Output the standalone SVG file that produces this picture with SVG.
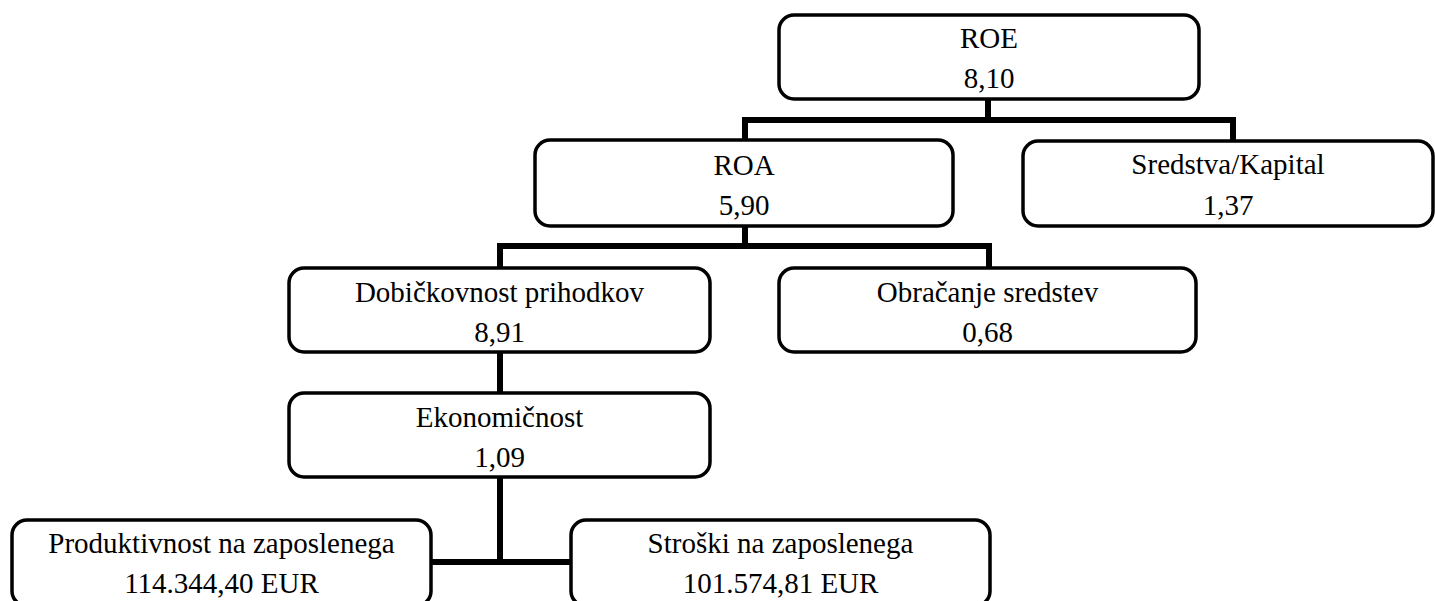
<svg xmlns="http://www.w3.org/2000/svg" width="1435" height="601" viewBox="0 0 1435 601">
<style>
.box{fill:#fff;stroke:#000;stroke-width:3.5}
.t{font-family:"Liberation Serif","Times New Roman",serif;font-size:29px;fill:#000;text-anchor:middle}
.c{fill:none;stroke:#000;stroke-width:6;stroke-linecap:butt;stroke-linejoin:miter}
</style>
<rect width="1435" height="601" fill="#fff"/>
<g id="connectors">
<path class="c" d="M988 99V120M745 120H1233M745 117V140M1233 117V141"/>
<path class="c" d="M745 226V246M500 246H989M500 243V268M989 243V268"/>
<path class="c" d="M500 352V393"/>
<path class="c" d="M500 477V562M431 562H571"/>
</g>
<g id="roe"><rect class="box" x="779" y="15" width="420" height="84" rx="15"/>
<text class="t" x="989" y="48">ROE</text><text class="t" x="989" y="88">8,10</text></g>
<g id="roa"><rect class="box" x="535" y="140" width="418" height="86" rx="15"/>
<text class="t" x="744" y="175">ROA</text><text class="t" x="744" y="215">5,90</text></g>
<g id="sredstva"><rect class="box" x="1023" y="141" width="410" height="85" rx="15"/>
<text class="t" x="1228" y="174">Sredstva/Kapital</text><text class="t" x="1228" y="215">1,37</text></g>
<g id="dobickovnost"><rect class="box" x="289" y="268" width="421" height="84" rx="15"/>
<text class="t" x="499.5" y="302">Dobičkovnost prihodkov</text><text class="t" x="499.5" y="342">8,91</text></g>
<g id="obracanje"><rect class="box" x="779" y="268" width="417" height="84" rx="15"/>
<text class="t" x="987.5" y="302">Obračanje sredstev</text><text class="t" x="987.5" y="342">0,68</text></g>
<g id="ekonomicnost"><rect class="box" x="289" y="393" width="421" height="84" rx="15"/>
<text class="t" x="499.5" y="427">Ekonomičnost</text><text class="t" x="499.5" y="467">1,09</text></g>
<g id="produktivnost"><rect class="box" x="12" y="520" width="419" height="86" rx="15"/>
<text class="t" x="221.5" y="553">Produktivnost na zaposlenega</text><text class="t" x="221.5" y="593">114.344,40 EUR</text></g>
<g id="stroski"><rect class="box" x="571" y="520" width="419" height="86" rx="15"/>
<text class="t" x="780.5" y="553">Stroški na zaposlenega</text><text class="t" x="780.5" y="593">101.574,81 EUR</text></g>
</svg>
